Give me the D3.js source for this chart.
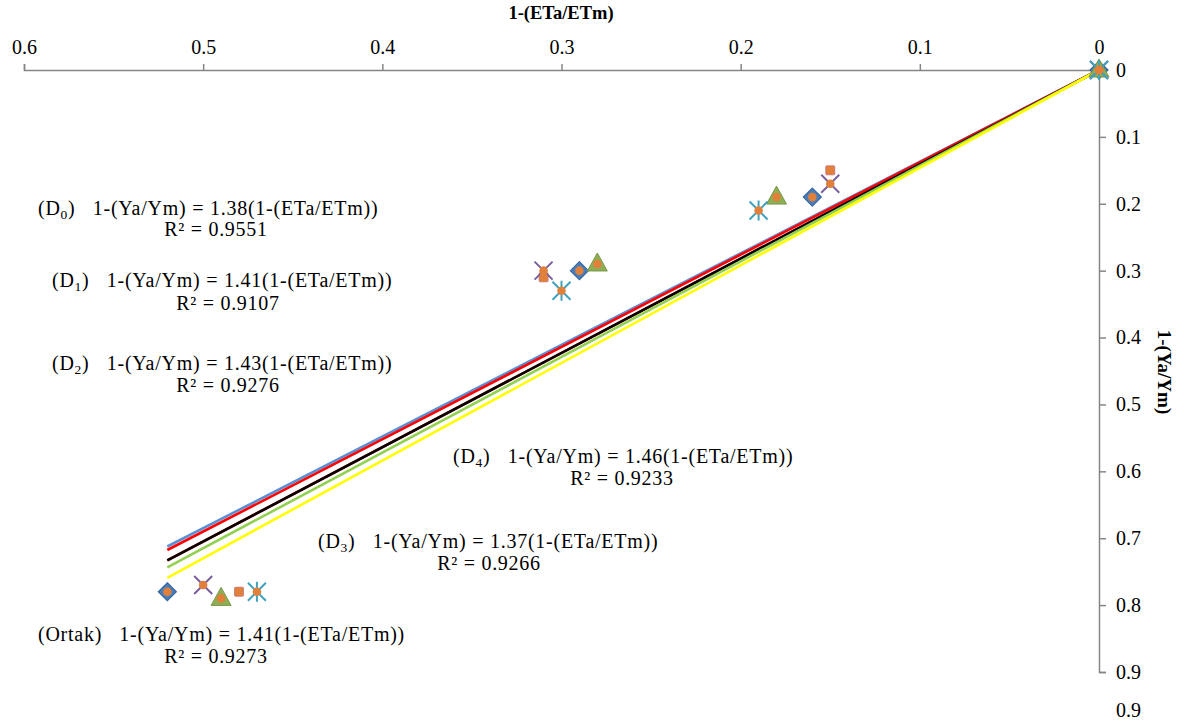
<!DOCTYPE html>
<html><head><meta charset="utf-8">
<script src="https://cdn.jsdelivr.net/npm/d3@7"></script>
<style>body{margin:0;background:#fff}svg{display:block}</style>
</head><body>
<svg id="c" width="1184" height="722"></svg>
<script>
// ---- data ----
const seriesNames = ["D0","D1","D2","D3","D4"];
const d0X = [0, 0.16, 0.29, 0.52], d0Y = [0, 0.19, 0.30, 0.78];
const d1X = [0, 0.15, 0.31, 0.48], d1Y = [0, 0.15, 0.31, 0.78];
const d2X = [0, 0.18, 0.28, 0.49], d2Y = [0, 0.19, 0.29, 0.79];
const d3X = [0, 0.15, 0.31, 0.50], d3Y = [0, 0.17, 0.30, 0.77];
const d4X = [0, 0.19, 0.30, 0.47], d4Y = [0, 0.21, 0.33, 0.78];
const trendNames = ["D3","D0","D1","Ortak","D2","D4"];
const trendSlopes = [1.37, 1.38, 1.41, 1.41, 1.43, 1.46];
const trendColors = ["#5B8FD4","#FF0000","#FF0000","#000000","#92D050","#FFFF00"];
const trendXmax = 0.52;
const xTicks = [0.6,0.5,0.4,0.3,0.2,0.1,0];
const xTickLabels = ["0.6","0.5","0.4","0.3","0.2","0.1","0"];
const yTicks = [0,0.1,0.2,0.3,0.4,0.5,0.6,0.7,0.8,0.9];
const yTickLabels = ["0","0.1","0.2","0.3","0.4","0.5","0.6","0.7","0.8","0.9"];
const eqLabels = ["D0","D1","D2","D4","D3","Ortak"];
const eqSlopes = ["1.38","1.41","1.43","1.46","1.37","1.41"];
const eqR2 = ["0.9551","0.9107","0.9276","0.9233","0.9266","0.9273"];

const FONT = '"Liberation Serif","Times New Roman",serif';
const svg = d3.select("#c");
const x = d3.scaleLinear().domain([0.6, 0]).range([24, 1099]);
const y = d3.scaleLinear().domain([0, 0.9]).range([70, 672]);
const axisColor = "#868686";

// axes
const gx = svg.append("g").attr("transform", `translate(0,${y(0)})`)
  .call(d3.axisTop(x).tickValues(xTicks).tickSize(6).tickPadding(10)
    .tickFormat((d,i) => xTickLabels[i]));
const gy = svg.append("g").attr("transform", `translate(${x(0)},0)`)
  .call(d3.axisRight(y).tickValues(yTicks).tickSize(7).tickPadding(10)
    .tickFormat((d,i) => yTickLabels[i]));
[gx, gy].forEach(g => {
  g.attr("font-family", FONT).attr("font-size", 20);
  g.select(".domain").attr("stroke", axisColor).attr("stroke-width", 1.5);
  g.selectAll(".tick line").attr("stroke", axisColor).attr("stroke-width", 1.5);
  g.selectAll(".tick text").attr("fill", "#000");
});
// duplicate label near the bottom edge (as in reference)
svg.append("text").attr("x", x(0) + 17).attr("y", 717).attr("font-size", 20)
  .attr("font-family", FONT).text(yTickLabels[yTickLabels.length - 1]);

// titles
svg.append("text").attr("x", 561).attr("y", 19).attr("text-anchor", "middle")
  .attr("font-family", FONT).attr("font-size", 18.5).attr("font-weight", "bold").text("1-(ETa/ETm)");
svg.append("text").attr("transform", "translate(1158,372) rotate(90)")
  .attr("font-family", FONT).attr("text-anchor", "middle").attr("font-size", 19).attr("font-weight", "bold")
  .text("1-(Ya/Ym)");

// trend lines
trendSlopes.forEach((s, i) => {
  svg.append("line")
    .attr("x1", x(0)).attr("y1", y(0))
    .attr("x2", x(trendXmax)).attr("y2", y(s * trendXmax))
    .attr("stroke", trendColors[i]).attr("stroke-width", 2.6);
});

// markers
const series = [
  {xs: d0X, ys: d0Y, type: "diamond"},
  {xs: d1X, ys: d1Y, type: "square"},
  {xs: d2X, ys: d2Y, type: "triangle"},
  {xs: d3X, ys: d3Y, type: "x"},
  {xs: d4X, ys: d4Y, type: "star"}
];
function drawMarker(g, type, cx, cy) {
  if (type === "diamond") {
    g.append("path").attr("d", `M${cx},${cy-9}L${cx+9},${cy}L${cx},${cy+9}L${cx-9},${cy}Z`)
      .attr("fill", "#4A7EBB").attr("stroke", "#3A679E").attr("stroke-width", 1.2);
  } else if (type === "square") {
    g.append("rect").attr("x", cx-4.5).attr("y", cy-4.5).attr("width", 9).attr("height", 9)
      .attr("rx", 1).attr("fill", "#E0803A").attr("stroke", "#C0708A").attr("stroke-width", 0.8);
  } else if (type === "triangle") {
    g.append("path").attr("d", `M${cx},${cy-11}L${cx+10},${cy+7}L${cx-10},${cy+7}Z`)
      .attr("fill", "#8DAE52").attr("stroke", "#79984A").attr("stroke-width", 1);
  } else if (type === "x") {
    g.append("path").attr("d", `M${cx-9},${cy-9}L${cx+9},${cy+9}M${cx+9},${cy-9}L${cx-9},${cy+9}`)
      .attr("stroke", "#7A5F9E").attr("stroke-width", 2);
  } else if (type === "star") {
    g.append("path").attr("d", `M${cx-9},${cy-9}L${cx+9},${cy+9}M${cx+9},${cy-9}L${cx-9},${cy+9}M${cx},${cy-10}L${cx},${cy+10}`)
      .attr("stroke", "#3FA2BE").attr("stroke-width", 2);
  }
}
const mg = svg.append("g");
series.forEach(s => s.xs.forEach((v, i) => drawMarker(mg, s.type, x(v), y(s.ys[i]))));
// Ortak (all points combined): orange circles
series.forEach(s => s.xs.forEach((v, i) => {
  mg.append("circle").attr("cx", x(v)).attr("cy", y(s.ys[i])).attr("r", 4.3)
    .attr("fill", "#E0803A");
}));

// equation labels: [left x of equation, baseline, centre x of R², baseline]
const eqPos = [[38,215,216,236],[52,287,228,310],[52,370,228,392],[453,463,622,485],[318,548,489,570],[38,641,216,663]];
eqLabels.forEach((lab, i) => {
  const [ex, ey, rx, ry] = eqPos[i];
  const t = svg.append("text").attr("x", ex).attr("y", ey)
    .attr("font-family", FONT).attr("font-size", 20).attr("letter-spacing", 0.75);
  if (lab === "Ortak") {
    t.append("tspan").text("(Ortak)");
  } else {
    t.append("tspan").text("(D");
    t.append("tspan").attr("font-size", 13.5).attr("dy", 4).text(lab.slice(1));
    t.append("tspan").attr("dy", -4).text(")");
  }
  t.append("tspan").text("\u00A0\u00A0\u00A01-(Ya/Ym) = " + eqSlopes[i] + "(1-(ETa/ETm))");
  svg.append("text").attr("x", rx).attr("y", ry).attr("text-anchor", "middle")
    .attr("font-family", FONT).attr("font-size", 20).attr("letter-spacing", 0.7)
    .text("R\u00B2 = " + eqR2[i]);
});
</script>
</body></html>
